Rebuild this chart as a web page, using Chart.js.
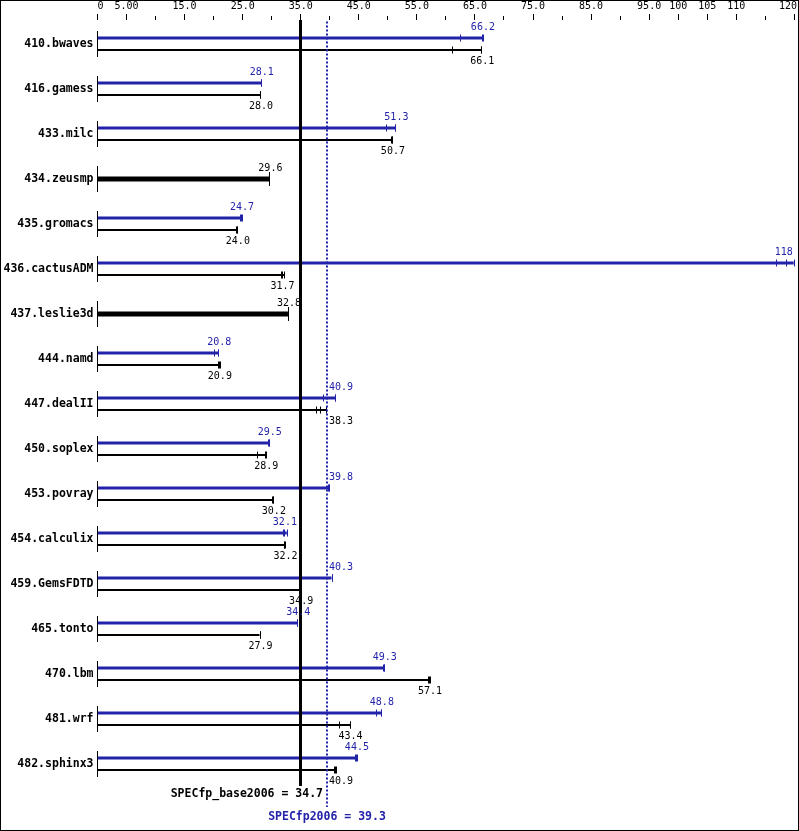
<!DOCTYPE html>
<html>
<head>
<meta charset="utf-8">
<title>SPECfp2006</title>
<script src="https://cdn.jsdelivr.net/npm/chart.js@4.4.1/dist/chart.umd.min.js"></script>
<style>
  html, body { margin: 0; padding: 0; background: #fff; }
  canvas { display: block; }
</style>
</head>
<body>
<canvas id="chart" width="799" height="831"></canvas>
<script>
// benchmark rows, top to bottom
const benchmarks = [
    '410.bwaves', '416.gamess', '433.milc', '434.zeusmp', '435.gromacs',
    '436.cactusADM', '437.leslie3d', '444.namd', '447.dealII', '450.soplex',
    '453.povray', '454.calculix', '459.GemsFDTD', '465.tonto', '470.lbm',
    '481.wrf', '482.sphinx3'
];

// reported ratios (null = peak same as base, drawn as one thick bar)
const peakScores = [66.2, 28.1, 51.3, null, 24.7, 118, null, 20.8, 40.9, 29.5, 39.8, 32.1, 40.3, 34.4, 49.3, 48.8, 44.5];
const baseScores = [66.1, 28.0, 50.7, null, 24.0, 31.7, null, 20.9, 38.3, 28.9, 30.2, 32.2, 34.9, 27.9, 57.1, 43.4, 40.9];
const sameScores = [null, null, null, 29.6, null, null, 32.8, null, null, null, null, null, null, null, null, null, null];

// individual run ratios (tick marks on the bars)
const peakRuns = [
    [62.4, 66.2, 66.4], [28.1, 28.1, 28.2], [49.6, 51.3, 51.3], null, [24.6, 24.7, 24.8],
    [116.9, 118.6, 119.9], null, [20.0, 20.8, 20.8], [38.8, 40.9, 40.9], [29.3, 29.5, 29.6],
    [39.7, 39.8, 39.8], [31.9, 32.1, 32.6], [40.3, 40.3, 40.3], [34.3, 34.4, 34.4], [49.2, 49.3, 49.4],
    [48.0, 48.8, 48.9], [44.4, 44.5, 44.7]
];
const baseRuns = [
    [61.1, 66.1, 66.1], [28.0, 28.0, 28.0], [50.5, 50.7, 50.8], null, [23.9, 24.0, 24.1],
    [31.6, 31.7, 32.2], null, [20.8, 20.9, 21.1], [37.6, 38.3, 39.4], [27.4, 28.9, 29.0],
    [30.1, 30.2, 30.2], [32.1, 32.2, 32.3], [34.9, 34.9, 34.9], [27.9, 27.9, 27.9], [57.0, 57.1, 57.3],
    [41.6, 43.4, 43.5], [40.8, 40.9, 41.0]
];
const sameRuns = [null, null, null, [29.6], null, null, [32.8], null, null, null, null, null, null, null, null, null, null];

// overall means
const baseMean = 34.7;
const peakMean = 39.3;

// top axis: one label per 5 units from 0 to 120
const xTickLabels = ['0', '5.00', '', '15.0', '', '25.0', '', '35.0', '', '45.0', '', '55.0', '',
    '65.0', '', '75.0', '', '85.0', '', '95.0', '100', '105', '110', '', '120'];

const BLUE = '#2323aa';
const MONO = '"DejaVu Sans Mono", "Liberation Mono", monospace';

const toBars = runs => runs.map(r => r ? [0, Math.max(...r)] : null);
const fmt = v => v >= 100 ? v.toFixed(0) : v.toFixed(1);

const specMarks = {
    id: 'specMarks',
    afterDatasetsDraw(chart) {
        const { ctx, chartArea: area, scales: { x, y } } = chart;
        const px = v => x.getPixelForValue(v);
        ctx.save();

        // top axis ticks + labels
        ctx.fillStyle = '#000';
        ctx.strokeStyle = '#000';
        ctx.lineWidth = 1;
        ctx.font = '10px ' + MONO;
        ctx.textBaseline = 'middle';
        xTickLabels.forEach((lab, i) => {
            const tx = Math.floor(px(i * 5)) + 0.5;
            ctx.beginPath();
            ctx.moveTo(tx, lab ? 14 : 16);
            ctx.lineTo(tx, 20);
            ctx.stroke();
            if (lab) {
                const w = ctx.measureText(lab).width;
                let left = px(i * 5) - w / 2;
                left = Math.max(left, area.left);
                left = Math.min(left, chart.width - 2 - w);
                ctx.textAlign = 'left';
                ctx.fillText(lab, left, 6.5);
            }
        });

        // zero line segment for every row
        benchmarks.forEach((b, i) => {
            const yc = y.getPixelForValue(i);
            ctx.beginPath();
            ctx.moveTo(area.left, yc - 13);
            ctx.lineTo(area.left, yc + 13);
            ctx.stroke();
        });

        // run ticks on bars
        const runSets = [peakRuns, baseRuns, sameRuns];
        runSets.forEach((runs, d) => {
            const meta = chart.getDatasetMeta(d);
            ctx.strokeStyle = d === 0 ? BLUE : '#000';
            runs.forEach((r, i) => {
                if (!r) return;
                const el = meta.data[i];
                const h = d === 2 ? 7 : 3.5;
                r.forEach(v => {
                    const tx = Math.round(px(v)) + 0.5;
                    ctx.beginPath();
                    ctx.moveTo(tx, el.y - h);
                    ctx.lineTo(tx, el.y + h);
                    ctx.stroke();
                });
            });
        });

        // mean lines
        const baseX = Math.round(px(baseMean));
        const peakX = Math.round(px(peakMean)) + 1;
        ctx.fillStyle = '#000';
        ctx.fillRect(baseX, area.top - 1.5, 3, area.bottom - area.top + 1);
        ctx.strokeStyle = BLUE;
        ctx.lineWidth = 2;
        ctx.setLineDash([2, 2]);
        ctx.beginPath();
        ctx.moveTo(peakX, area.top);
        ctx.lineTo(peakX, 807);
        ctx.stroke();
        ctx.setLineDash([]);

        // value labels, centred on the reported ratio
        ctx.font = '10px ' + MONO;
        ctx.textBaseline = 'middle';
        const scoreSets = [peakScores, baseScores, sameScores];
        scoreSets.forEach((scores, d) => {
            const meta = chart.getDatasetMeta(d);
            ctx.fillStyle = d === 0 ? BLUE : '#000';
            scores.forEach((s, i) => {
                if (s === null) return;
                const el = meta.data[i];
                const t = fmt(s);
                const w = ctx.measureText(t).width;
                let left = px(s) + 1 - w / 2;
                if (left < peakX + 2 && left + w > peakX - 1) left = peakX + 2;
                left = Math.min(left, chart.width - 3 - w);
                const ty = d === 1 ? el.y + 11 : el.y - 11;
                ctx.textAlign = 'left';
                ctx.fillText(t, left, ty);
            });
        });

        // mean captions
        ctx.font = 'bold 11.5px ' + MONO;
        ctx.fillStyle = '#000';
        ctx.textAlign = 'right';
        ctx.fillText('SPECfp_base2006 = ' + baseMean.toFixed(1), peakX - 4, 794);
        ctx.fillStyle = BLUE;
        ctx.textAlign = 'center';
        ctx.fillText('SPECfp2006 = ' + peakMean.toFixed(1), peakX, 817);

        // frame
        ctx.strokeStyle = '#000';
        ctx.lineWidth = 1;
        ctx.strokeRect(0.5, 0.5, chart.width - 1, chart.height - 1);
        ctx.restore();
    }
};

new Chart(document.getElementById('chart'), {
    type: 'bar',
    data: {
        labels: benchmarks,
        datasets: [
            {
                label: 'peak',
                data: toBars(peakRuns),
                backgroundColor: BLUE,
                barPercentage: 0.25
            },
            {
                label: 'base',
                data: toBars(baseRuns),
                backgroundColor: '#000',
                barPercentage: 2 / 12
            },
            {
                label: 'same',
                data: toBars(sameRuns),
                backgroundColor: '#000',
                barPercentage: 5 / 24
            }
        ]
    },
    options: {
        indexAxis: 'y',
        responsive: false,
        animation: false,
        devicePixelRatio: 1,
        datasets: {
            bar: {
                skipNull: true,
                categoryPercentage: 24 / 45,
                borderWidth: 0
            }
        },
        layout: {
            padding: { left: 0, right: 4.7, top: 21.5, bottom: 44.5 }
        },
        plugins: {
            legend: { display: false },
            tooltip: { enabled: false },
            title: { display: false }
        },
        scales: {
            x: {
                type: 'linear',
                display: false,
                min: 0,
                max: 120
            },
            y: {
                type: 'category',
                grid: { display: false, drawTicks: false },
                border: { display: false },
                ticks: {
                    color: '#000',
                    padding: 4,
                    font: { family: MONO, size: 11.5, weight: 'bold' }
                },
                afterFit: scale => { scale.width = 97.5; }
            }
        }
    },
    plugins: [specMarks]
});
</script>
</body>
</html>
